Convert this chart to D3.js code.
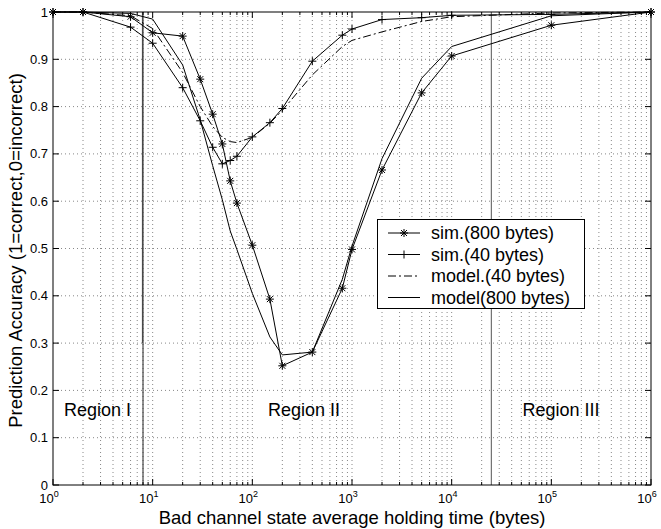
<!DOCTYPE html>
<meta charset="utf-8">
<style>
  body { margin: 0; background: #fff; }
  svg text { font-family: "Liberation Sans", Arial, Helvetica, sans-serif; fill: #000; }
  .grid line { stroke: #888; stroke-width: 1; stroke-dasharray: 1,3; }
</style>
<script src="https://d3js.org/d3.v7.min.js"></script>
<div id="chart"></div>
<script>

// holding times (bytes) shared by all four curves
var holdTime = [1, 2, 6, 10, 20, 30, 40, 50, 60, 70, 100, 150, 200, 400, 800, 1000, 2000, 5000, 1e4, 1e5, 1e6];

var sim800   = [1, 1, 0.99, 0.956, 0.949, 0.858, 0.784, 0.721, 0.643, 0.596, 0.507, 0.393, 0.252, 0.281, 0.416, 0.498, 0.666, 0.829, 0.907, 0.972, 1];
var sim40    = [1, 1, 0.968, 0.934, 0.840, 0.770, 0.714, 0.679, 0.686, 0.695, 0.736, 0.766, 0.796, 0.896, 0.951, 0.964, 0.984, 0.988, 0.993, 0.995, 1];
var model40  = [1, 1, 0.992, 0.965, 0.872, 0.800, 0.758, 0.735, 0.726, 0.724, 0.735, 0.765, 0.792, 0.867, 0.927, 0.940, 0.958, 0.980, 0.990, 0.998, 1];
var model800 = [1, 1, 0.997, 0.985, 0.888, 0.772, 0.675, 0.603, 0.537, 0.498, 0.405, 0.313, 0.275, 0.281, 0.435, 0.505, 0.690, 0.860, 0.927, 0.992, 1];

var seriesNames = ["sim.(800 bytes)", "sim.(40 bytes)", "model.(40 bytes)", "model(800 bytes)"];

// region boundaries and labels
var regionBounds = [8, 25000];
var regionNames = ["Region I", "Region II", "Region III"];
var regionX = [2.8, 330, 1.25e5];

var yTicks = [0, 0.1, 0.2, 0.3, 0.4, 0.5, 0.6, 0.7, 0.8, 0.9, 1];
var xDecades = [0, 1, 2, 3, 4, 5, 6];

var W = 661, H = 529;
var margin = {top: 12, right: 10, bottom: 44, left: 53};

var svg = d3.select("#chart").append("svg")
  .attr("width", W).attr("height", H);

var x = d3.scaleLog().domain([1, 1e6]).range([margin.left, W - margin.right]);
var y = d3.scaleLinear().domain([0, 1]).range([H - margin.bottom, margin.top]);

var x0 = x.range()[0], x1 = x.range()[1], y0 = y.range()[0], y1 = y.range()[1];

// minor positions 1..9 in each decade
var minorX = [];
for (var d = 0; d < 6; d++) {
  for (var m = 1; m <= 9; m++) minorX.push(m * Math.pow(10, d));
}
minorX.push(1e6);

// grid
var grid = svg.append("g").attr("class", "grid");
grid.selectAll("line.gx").data(minorX.filter(function(v) { return v > 1 && v < 1e6; }))
  .enter().append("line")
  .attr("x1", function(v) { return x(v); }).attr("x2", function(v) { return x(v); })
  .attr("y1", y0).attr("y2", y1);
grid.selectAll("line.gy").data(yTicks.filter(function(v) { return v > 0 && v < 1; }))
  .enter().append("line")
  .attr("x1", x0).attr("x2", x1)
  .attr("y1", function(v) { return y(v); }).attr("y2", function(v) { return y(v); });

// region boundaries
svg.append("line")
  .attr("x1", x(regionBounds[0])).attr("x2", x(regionBounds[0]))
  .attr("y1", y0).attr("y2", y1)
  .attr("stroke", "#222").attr("stroke-width", 1);
svg.append("line")
  .attr("x1", x(regionBounds[0]) - 0.6).attr("x2", x(regionBounds[0]) - 0.6)
  .attr("y1", y(0.3)).attr("y2", y1)
  .attr("stroke", "#444").attr("stroke-width", 1);
svg.append("line")
  .attr("x1", x(regionBounds[1])).attr("x2", x(regionBounds[1]))
  .attr("y1", y0).attr("y2", y1)
  .attr("stroke", "#555").attr("stroke-width", 1);

svg.selectAll("text.region").data(regionNames).enter().append("text")
  .attr("x", function(d, i) { return x(regionX[i]); })
  .attr("y", y(0.16))
  .attr("dy", "0.35em")
  .attr("text-anchor", "middle")
  .style("font-size", "18px")
  .text(function(d) { return d; });

// axes box
svg.append("rect")
  .attr("x", x0).attr("y", y1).attr("width", x1 - x0).attr("height", y0 - y1)
  .attr("fill", "none").attr("stroke", "#000").attr("stroke-width", 1);

// ticks
var ticks = svg.append("g").attr("stroke", "#000").attr("stroke-width", 1);
minorX.forEach(function(v) {
  var major = Math.abs(Math.log10(v) - Math.round(Math.log10(v))) < 1e-9;
  var len = major ? 6 : 3;
  ticks.append("line").attr("x1", x(v)).attr("x2", x(v)).attr("y1", y0).attr("y2", y0 - len);
  ticks.append("line").attr("x1", x(v)).attr("x2", x(v)).attr("y1", y1).attr("y2", y1 + len);
});
yTicks.forEach(function(v) {
  ticks.append("line").attr("x1", x0).attr("x2", x0 + 6).attr("y1", y(v)).attr("y2", y(v));
  ticks.append("line").attr("x1", x1).attr("x2", x1 - 6).attr("y1", y(v)).attr("y2", y(v));
});

svg.selectAll("text.yt").data(yTicks).enter().append("text")
  .attr("x", x0 - 5).attr("y", function(v) { return y(v); })
  .attr("dy", "0.35em").attr("text-anchor", "end")
  .style("font-size", "13px")
  .text(function(v) { return d3.format("~g")(v); });

var xl = svg.selectAll("text.xt").data(xDecades).enter().append("text")
  .attr("x", function(e) { return x(Math.pow(10, e)) - 4; })
  .attr("y", y0 + 18)
  .attr("text-anchor", "middle")
  .style("font-size", "13px");
xl.append("tspan").text("10");
xl.append("tspan").attr("dy", "-6").style("font-size", "9px").text(function(e) { return e; });

// axis titles
svg.append("text")
  .attr("x", (x0 + x1) / 2).attr("y", H - 5)
  .attr("text-anchor", "middle").style("font-size", "18.5px")
  .text("Bad channel state average holding time (bytes)");
svg.append("text")
  .attr("transform", "translate(22," + ((y0 + y1) / 2 + 2) + ") rotate(-90)")
  .attr("text-anchor", "middle").style("font-size", "18.5px")
  .text("Prediction Accuracy (1=correct,0=incorrect)");

// curves
var series = [sim800, sim40, model40, model800];
var dashes = [null, null, "8,3,2,3", null];
var markers = ["star", "plus", null, null];

var line = d3.line()
  .x(function(d) { return x(d[0]); })
  .y(function(d) { return y(d[1]); });

function drawMarker(g, kind, cx, cy) {
  var r = 4;
  if (!kind) return;
  g.append("line").attr("x1", cx - r).attr("x2", cx + r).attr("y1", cy).attr("y2", cy);
  g.append("line").attr("x1", cx).attr("x2", cx).attr("y1", cy - r).attr("y2", cy + r);
  if (kind === "star") {
    var q = r * 0.75;
    g.append("line").attr("x1", cx - q).attr("x2", cx + q).attr("y1", cy - q).attr("y2", cy + q);
    g.append("line").attr("x1", cx - q).attr("x2", cx + q).attr("y1", cy + q).attr("y2", cy - q);
  }
}

series.forEach(function(vals, i) {
  var pts = holdTime.map(function(t, j) { return [t, vals[j]]; });
  svg.append("path")
    .attr("d", line(pts))
    .attr("fill", "none").attr("stroke", "#000").attr("stroke-width", 1)
    .attr("stroke-dasharray", dashes[i]);
  var mg = svg.append("g").attr("stroke", "#000").attr("stroke-width", 1);
  pts.forEach(function(p) { drawMarker(mg, markers[i], x(p[0]), y(p[1])); });
});

// legend
var lg = svg.append("g");
lg.append("rect")
  .attr("x", 377.5).attr("y", 219.5).attr("width", 207).attr("height", 89)
  .attr("fill", "#fff").attr("stroke", "#000").attr("stroke-width", 1);
seriesNames.forEach(function(name, i) {
  var ly = 233 + i * 21.5;
  lg.append("line").attr("x1", 388).attr("x2", 420).attr("y1", ly).attr("y2", ly)
    .attr("stroke", "#000").attr("stroke-width", 1)
    .attr("stroke-dasharray", dashes[i]);
  var mg = lg.append("g").attr("stroke", "#000").attr("stroke-width", 1);
  drawMarker(mg, markers[i], 404, ly);
  lg.append("text").attr("x", 431).attr("y", ly).attr("dy", "0.35em")
    .style("font-size", "18px").text(name);
});

</script>
